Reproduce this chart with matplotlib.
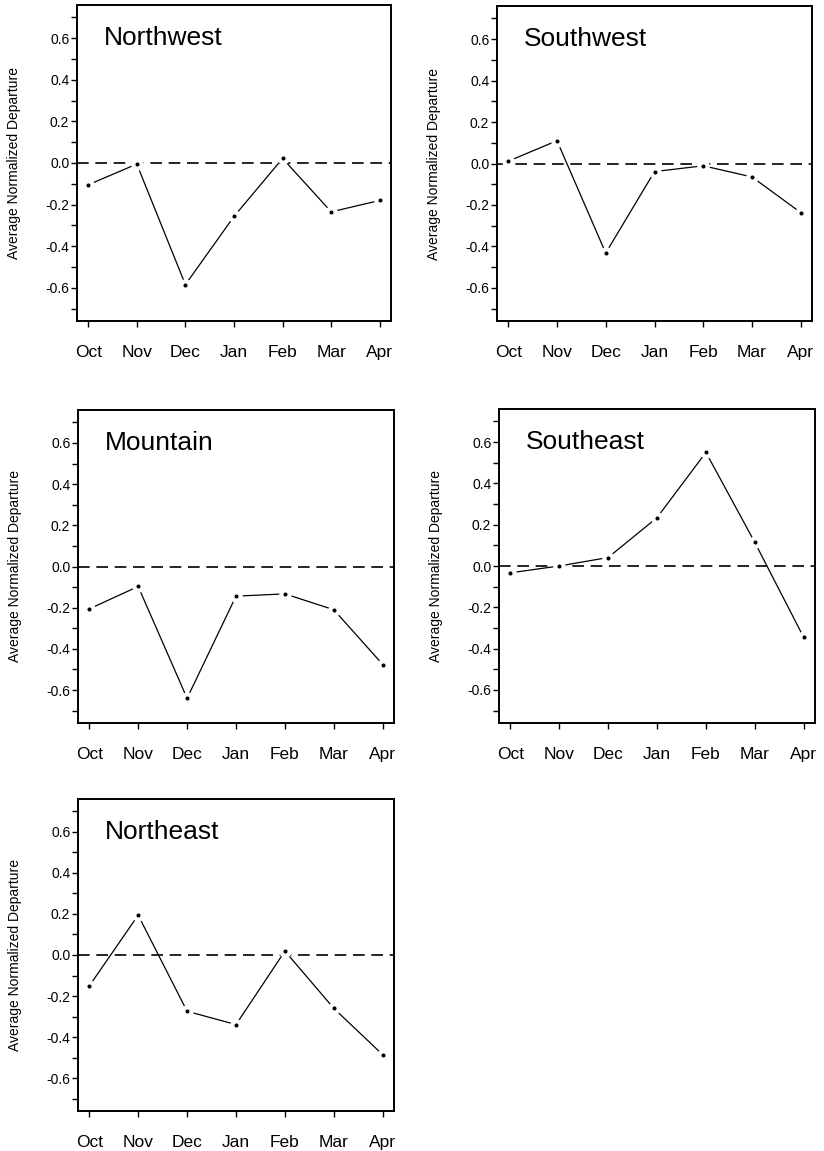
import matplotlib
matplotlib.use("Agg")
import matplotlib.pyplot as plt
from matplotlib.ticker import MultipleLocator, FormatStrFormatter

plt.rcParams['font.family'] = ['Liberation Sans', 'DejaVu Sans']

# data
months = ["Oct", "Nov", "Dec", "Jan", "Feb", "Mar", "Apr"]
northwest = [-0.105, -0.005, -0.585, -0.257, 0.022, -0.235, -0.180]
southwest = [0.011, 0.110, -0.432, -0.039, -0.011, -0.065, -0.237]
mountain = [-0.206, -0.097, -0.640, -0.144, -0.133, -0.210, -0.476]
southeast = [-0.033, 0.000, 0.041, 0.234, 0.550, 0.114, -0.346]
northeast = [-0.151, 0.194, -0.274, -0.339, 0.019, -0.260, -0.486]

regions = ["Northwest", "Southwest", "Mountain", "Southeast", "Northeast"]
series = [northwest, southwest, mountain, southeast, northeast]

W, H = 824, 1151
fig = plt.figure(figsize=(W / 100, H / 100), dpi=100)

# axes boxes in pixels: left, top, right, bottom
boxes = [
    (77, 5, 391, 321),
    (497, 6, 812, 321),
    (78, 410, 394, 723),
    (499, 409, 815, 723),
    (78, 799, 394, 1111),
]

x = list(range(len(months)))

for name, vals, (l, t, r, b) in zip(regions, series, boxes):
    ax = fig.add_axes([l / W, 1 - b / H, (r - l) / W, (b - t) / H])
    ax.axhline(0, color="black", lw=1.2, dashes=(7, 4), zorder=1)
    ax.plot(x, vals, color="black", lw=0.9, marker="o", ms=6,
            mfc="black", mec="white", mew=3, zorder=3)
    ax.set_xlim(-0.23, 6.23)
    ax.set_ylim(-0.76, 0.76)
    ax.set_xticks(x)
    ax.set_xticklabels(months, fontsize=12.5)
    ax.yaxis.set_major_locator(MultipleLocator(0.2))
    ax.yaxis.set_minor_locator(MultipleLocator(0.1))
    ax.yaxis.set_major_formatter(FormatStrFormatter("%.1f"))
    ax.tick_params(axis="y", which="both", direction="out", length=4,
                   width=1, pad=1.5, labelsize=10)
    ax.tick_params(axis="x", direction="out", length=4, width=1, pad=13)
    for s in ax.spines.values():
        s.set_linewidth(1.4)
    ax.set_ylabel("Average Normalized Departure", fontsize=10)
    ax.yaxis.set_label_coords(-56 / (r - l), 0.5)
    ax.text(0.085, 0.6, name, transform=ax.get_yaxis_transform(),
            fontsize=19, va="center", ha="left")

fig.savefig("out.png", dpi=100)
